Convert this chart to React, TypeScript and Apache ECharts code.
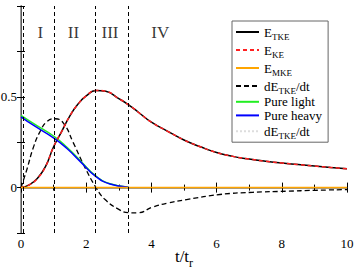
import React, { useEffect, useRef } from "react";
import * as echarts from "echarts";

// E_TKE (and E_KE, which coincides with it)
const tkeT = [0, 0.25, 0.5, 0.75, 1.0, 1.25, 1.5, 1.75, 2.0, 2.3, 2.6, 3.0, 3.3, 3.6, 4.0, 4.5, 5.0, 5.5, 6.0, 6.5, 7.0, 7.5, 8.0, 8.5, 9.0, 9.5, 10];
const tkeV = [0, 0.015, 0.05, 0.115, 0.225, 0.31, 0.395, 0.46, 0.505, 0.535, 0.53, 0.49, 0.456, 0.415, 0.36, 0.31, 0.262, 0.225, 0.193, 0.172, 0.157, 0.145, 0.135, 0.127, 0.119, 0.111, 0.104];
const keT = tkeT;
const keV = tkeV;
// E_MKE
const mkeT = [0, 10];
const mkeV = [0, 0];
// dE_TKE/dt
const dT = [0, 0.18, 0.39, 0.59, 0.8, 1.05, 1.3, 1.61, 1.92, 2.3, 2.58, 3.0, 3.3, 3.55, 4.06, 4.5, 5.08, 6.1, 7.1, 8.15, 9.0, 10];
const dV = [0, 0.1, 0.227, 0.31, 0.364, 0.379, 0.355, 0.245, 0.126, 0, -0.066, -0.12, -0.138, -0.139, -0.106, -0.085, -0.066, -0.038, -0.026, -0.02, -0.015, -0.011];
// Pure light / pure heavy
const lightT = [0, 0.39, 1.03, 1.41, 1.82, 2.3, 2.73, 3.3];
const lightV = [0.398, 0.352, 0.28, 0.222, 0.148, 0.063, 0.021, 0.002];
const heavyT = [0, 0.39, 1.03, 1.41, 1.82, 2.3, 2.73, 3.3];
const heavyV = [0.39, 0.342, 0.27, 0.215, 0.143, 0.06, 0.02, 0.002];
// Regime boundaries and labels
const boundaries = [0.08, 1.03, 2.28, 3.3];
const regimeNames = ["I", "II", "III", "IV"];
const regimeT = [0.59, 1.61, 2.73, 4.27];
const regimeY = 0.853;
const xTicks = [0, 2, 4, 6, 8, 10];
const yLabels = [0, 0.5];
const yTopLabel = 1;

const FONT = "'Liberation Serif', 'DejaVu Serif', serif";

const pair = (t: number[], v: number[]) => t.map((x, i) => [x, v[i]]);
const near = (list: number[], v: number) => list.find((l) => Math.abs(l - v) < 1e-6);

const legendText: Record<string, string> = {
  ETKE: "{m|E}{s|TKE}",
  EKE: "{m|E}{s|KE}",
  EMKE: "{m|E}{s|MKE}",
  dETKE: "{m|dE}{s|TKE}{m|/dt}",
  "Pure light": "{m|Pure light}",
  "Pure heavy": "{m|Pure heavy}",
  dETKE2: "{m|dE}{s|TKE}{m|/dt}",
};

export default function App() {
  const ref = useRef<HTMLDivElement>(null);
  useEffect(() => {
    const chart = echarts.init(ref.current as HTMLDivElement, null, { renderer: "svg" });
    const baseX = {
      type: "value",
      min: 0,
      max: 10,
      interval: 2,
      splitLine: { show: false },
      axisTick: { show: true, inside: true, length: 5, lineStyle: { color: "#000" } },
      minorTick: { show: true, splitNumber: 2, length: 3, lineStyle: { color: "#000" } },
      minorSplitLine: { show: false },
    };
    const baseY = {
      type: "value",
      min: -0.25,
      max: 1,
      interval: 0.25,
      splitLine: { show: false },
      axisTick: { show: true, inside: true, length: 4, lineStyle: { color: "#000" } },
    };
    chart.setOption({
      animation: false,
      grid: { left: 21, right: 7, top: 6, bottom: 38, containLabel: false, outerBoundsMode: "none" },
      xAxis: [
        {
          ...baseX,
          position: "bottom",
          axisLine: { show: true, lineStyle: { color: "#777", width: 1.5 } },
          axisLabel: {
            show: true,
            margin: 4,
            color: "#000",
            fontFamily: FONT,
            fontSize: 13,
            showMinLabel: true,
            showMaxLabel: true,
            formatter: (v: number) => {
              const n = near(xTicks, v);
              return n === undefined ? "" : String(n);
            },
          },
          name: "{a|t/t}{b|r}",
          nameLocation: "middle",
          nameGap: 15,
          nameMoveOverlap: false,
          nameTextStyle: {
            verticalAlign: "top",
            rich: {
              a: { fontFamily: FONT, fontSize: 17, color: "#000", verticalAlign: "top", lineHeight: 16 },
              b: { fontFamily: FONT, fontSize: 12, color: "#000", lineHeight: 10, padding: [14, 0, 0, 0] },
            },
          },
        },
        {
          ...baseX,
          position: "top",
          axisLine: { show: true, lineStyle: { color: "#000", width: 1 } },
          axisLabel: { show: false },
        },
      ],
      yAxis: [
        {
          ...baseY,
          position: "left",
          axisLine: { show: true, lineStyle: { color: "#000", width: 1 } },
          axisLabel: {
            show: true,
            margin: 4,
            color: "#000",
            fontFamily: FONT,
            fontSize: 13,
            customValues: yLabels,
            hideOverlap: false,
            formatter: (v: number) => {
              const n = near(yLabels, v);
              return n === undefined ? "" : String(n);
            },
          },
        },
        {
          ...baseY,
          position: "right",
          axisLine: { show: true, lineStyle: { color: "#777", width: 1.5 } },
          axisLabel: { show: false },
        },
      ],
      legend: {
        orient: "vertical",
        left: 232,
        top: 21,
        padding: [2, 6, 2, 3],
        itemGap: 0,
        itemWidth: 23,
        itemHeight: 17,
        borderColor: "#666",
        borderWidth: 1,
        backgroundColor: "#fff",
        itemStyle: { opacity: 0, borderWidth: 0 },
        data: ["ETKE", "EKE", "EMKE", "dETKE", "Pure light", "Pure heavy", "dETKE2"],
        formatter: (n: string) => legendText[n] || n,
        textStyle: {
          color: "#000",
          fontFamily: FONT,
          fontSize: 13,
          rich: {
            m: { fontFamily: FONT, fontSize: 13, color: "#000", lineHeight: 17 },
            s: { fontFamily: FONT, fontSize: 9, color: "#000", lineHeight: 8, padding: [9, 0, 0, 0] },
          },
        },
      },
      series: [
        {
          name: "ETKE",
          type: "line",
          data: pair(tkeT, tkeV),
          smooth: true,
          symbol: "none",
          lineStyle: { color: "#000", width: 1.5, type: "solid" },
          itemStyle: { color: "#000" },
          z: 2,
        },
        {
          name: "EKE",
          type: "line",
          data: pair(keT, keV),
          smooth: true,
          symbol: "none",
          lineStyle: { color: "#ff2020", width: 1.5, type: [4, 3] },
          itemStyle: { color: "#ff2020" },
          z: 3,
        },
        {
          name: "dETKE",
          type: "line",
          data: pair(dT, dV),
          smooth: true,
          symbol: "none",
          lineStyle: { color: "#000", width: 1.3, type: [5, 3] },
          itemStyle: { color: "#000" },
          z: 2,
        },
        {
          name: "Pure light",
          type: "line",
          data: pair(lightT, lightV),
          smooth: true,
          symbol: "none",
          lineStyle: { color: "#22ee22", width: 1.5 },
          itemStyle: { color: "#22ee22" },
          z: 2,
        },
        {
          name: "Pure heavy",
          type: "line",
          data: pair(heavyT, heavyV),
          smooth: true,
          symbol: "none",
          lineStyle: { color: "#0000ff", width: 1.5 },
          itemStyle: { color: "#0000ff" },
          z: 3,
        },
        {
          name: "dETKE2",
          type: "line",
          data: [],
          symbol: "none",
          lineStyle: { color: "#dddddd", width: 1, type: "dotted" },
          itemStyle: { color: "#dddddd" },
        },
        {
          name: "EMKE",
          type: "line",
          data: pair(mkeT, mkeV),
          symbol: "none",
          lineStyle: { color: "#ffa500", width: 1.5 },
          itemStyle: { color: "#ffa500" },
          z: 4,
          markLine: {
            silent: true,
            symbol: ["none", "none"],
            label: { show: false },
            lineStyle: { color: "#000", width: 1, type: [4, 3] },
            data: boundaries.map((b) => ({ xAxis: b })),
          },
        },
        {
          name: "regimes",
          type: "scatter",
          symbolSize: 0,
          data: regimeNames.map((n, i) => ({ name: n, value: [regimeT[i], regimeY] })),
          label: {
            show: true,
            position: "inside",
            formatter: "{b}",
            color: "#000",
            fontFamily: FONT,
            fontSize: 17,
          },
          z: 5,
        },
        {
          name: "topTick",
          type: "scatter",
          symbolSize: 1,
          clip: false,
          silent: true,
          itemStyle: { opacity: 0 },
          data: [{ name: String(yTopLabel), value: [0, yTopLabel] }],
          label: {
            show: true,
            position: "left",
            distance: 4,
            formatter: "{b}",
            color: "#000",
            fontFamily: FONT,
            fontSize: 13,
          },
          labelLayout: { hideOverlap: false },
          z: 6,
        },
      ],
    });
    return () => chart.dispose();
  }, []);
  return <div ref={ref} style={{ position: "absolute", left: 0, top: 0, width: 354, height: 271 }} />;
}
